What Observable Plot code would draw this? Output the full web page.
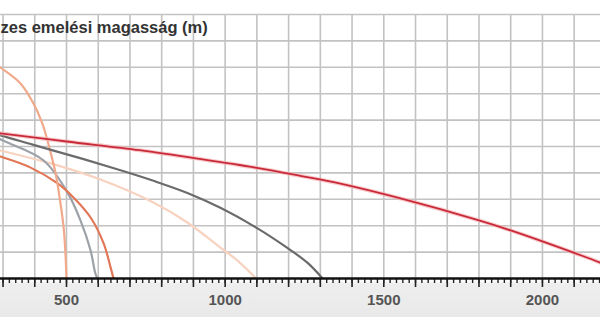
<!DOCTYPE html>
<html><head><meta charset="utf-8">
<script src="https://cdn.jsdelivr.net/npm/d3@7"></script>
<script src="https://cdn.jsdelivr.net/npm/@observablehq/plot@0.6"></script>
<style>html,body{margin:0;padding:0;background:#fff;overflow:hidden} #chart svg{display:block}</style>
</head><body><div id="chart"></div>
<script>
// Text and ticks
const titleText = "zes emelési magasság (m)";
const xLabels = [500, 1000, 1500, 2000];
const gridXValues = d3.range(300, 2200, 100);
const gridYValues = d3.range(10, 101, 10);
const minorTicks = d3.range(300, 2200, 20);
const majorTicks = d3.range(300, 2200, 100);

// Series (flow Q, head H)
const redQ = [0, 150, 292, 500, 730, 920, 1100, 1240, 1360, 1550, 1800, 1900, 2100, 2180, 2290];
const redH = [59, 57.1, 55, 51.9, 48.6, 45.3, 41.9, 38.8, 36, 30.4, 22, 18.2, 9.7, 6.1, 0];

const darkQ = [0, 150, 292, 396, 554, 670, 774, 881, 985, 1102, 1196, 1260, 1307];
const darkH = [62.5, 58.8, 54.2, 50.6, 45.2, 41.0, 37.0, 32.4, 26.8, 19.0, 11.6, 5.9, 0];

const peachQ = [0, 150, 292, 450, 607, 774, 881, 985, 1039, 1089, 1096];
const peachH = [56, 52.6, 48.5, 43.6, 37.5, 28.8, 21.2, 11.7, 6.8, 1.0, 0];

const orangeQ = [0, 150, 292, 387, 472, 522, 576, 617, 639, 648];
const orangeH = [57, 51.8, 46.2, 42, 36, 30.7, 23.1, 13.3, 4.2, 0];

const grayQ = [0, 150, 292, 314, 428, 503, 544, 576, 591, 598];
const grayH = [67, 60, 52.7, 51.5, 44.7, 32.6, 22, 10.6, 1.9, 0];

const steepQ = [0, 150, 292, 355, 396, 424, 440, 450, 465, 475, 491, 497, 500];
const steepH = [100, 91, 79.9, 73.9, 66.3, 58.7, 52.3, 47.7, 40.2, 33.3, 19.3, 8.7, 0];

const pairs = (q, h) => q.map((d, i) => [d, h[i]]);
const curve = (q, h, opts) => Plot.line(pairs(q, h), {x: d => d[0], y: d => d[1], curve: "catmull-rom", clip: true, strokeLinecap: "round", ...opts});

const chart = Plot.plot({
  width: 600, height: 317,
  marginTop: 14, marginBottom: 39, marginLeft: 0, marginRight: 0,
  x: {domain: [292, 2183], label: null},
  y: {domain: [0, 100], axis: null, label: null},
  style: {
    fontFamily: "'Liberation Sans', Arial, sans-serif",
    background: "linear-gradient(#ffffff 0px, #ffffff 280px, #eeeeee 284px, #e9e9e9 317px)"
  },
  marks: [
    Plot.gridX(gridXValues, {stroke: "#c2c2c2", strokeOpacity: 1, strokeWidth: 1.6}),
    Plot.gridY(gridYValues, {stroke: "#c2c2c2", strokeOpacity: 1, strokeWidth: 1.6}),
    curve(peachQ, peachH, {stroke: "#f7d2bf", strokeWidth: 2.2}),
    curve(grayQ, grayH, {stroke: "#9ca2a8", strokeWidth: 2.2}),
    curve(orangeQ, orangeH, {stroke: "#e27758", strokeWidth: 2.2}),
    curve(steepQ, steepH, {stroke: "#f0a98b", strokeWidth: 2.2}),
    curve(darkQ, darkH, {stroke: "#6b6b6b", strokeWidth: 2.2}),
    curve(redQ, redH, {stroke: "#f5b3b5", strokeWidth: 4, strokeOpacity: 0.7}),
    curve(redQ, redH, {stroke: "#c92a3a", strokeWidth: 1.8}),
    Plot.axisX(minorTicks, {tickSize: 5, tickFormat: () => "", stroke: "#222", strokeWidth: 1.4, label: null}),
    Plot.axisX(majorTicks, {tickSize: 9, tickFormat: () => "", stroke: "#222", strokeWidth: 1.6, label: null}),
    Plot.ruleY([0], {stroke: "#111", strokeWidth: 2.5}),
    Plot.axisX(xLabels, {tickSize: 0, tickPadding: 16, tickFormat: d => String(d), fontSize: 15, fontWeight: "bold", fill: "#555", label: null}),
    Plot.text([titleText], {frameAnchor: "top-left", dy: 7, fontSize: 16.5, fontWeight: "bold", fill: "#333", textAnchor: "start"})
  ]
});
document.getElementById("chart").append(chart);
</script>
</body></html>
